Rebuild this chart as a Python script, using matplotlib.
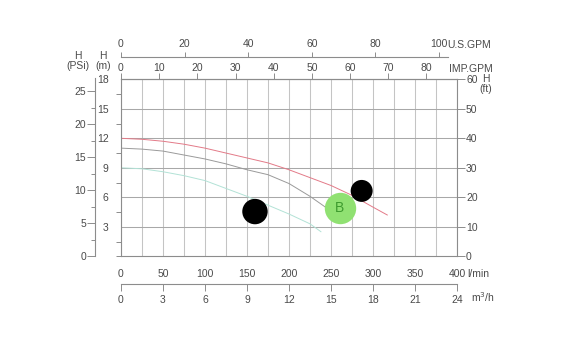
import matplotlib.pyplot as plt
from matplotlib.ticker import MultipleLocator

# pump curves: flow (l/min) vs head (m)
q_red = [0, 25, 50, 75, 100, 125, 150, 175, 200, 225, 250, 275, 300, 317]
h_red = [12.0, 11.9, 11.7, 11.4, 11.0, 10.5, 10.0, 9.5, 8.8, 8.0, 7.2, 6.2, 5.0, 4.2]
q_gray = [0, 25, 50, 75, 100, 125, 150, 175, 200, 225, 250, 262]
h_gray = [11.0, 10.9, 10.7, 10.3, 9.9, 9.4, 8.8, 8.3, 7.4, 6.1, 4.6, 3.7]
q_teal = [0, 25, 50, 75, 100, 125, 150, 175, 200, 225, 238]
h_teal = [9.0, 8.9, 8.6, 8.2, 7.7, 6.9, 6.1, 5.2, 4.3, 3.3, 2.5]

# marks drawn over the chart
dots_q = [159.5, 286.5]
dots_h = [4.55, 6.65]
dot_sizes = [335, 250]
badge_q = 260.7
badge_h = 4.9
badge_text = 'B'

lmin_ticks = list(range(0, 401, 50))
m_ticks = [3, 6, 9, 12, 15, 18]
psi_ticks = [0, 5, 10, 15, 20, 25]
ft_ticks = [0, 10, 20, 30, 40, 50, 60]
imp_ticks = list(range(0, 81, 10))
us_ticks = list(range(0, 101, 20))
m3h_ticks = list(range(0, 25, 3))

plt.rcParams['font.family'] = ['Liberation Sans', 'DejaVu Sans']
TXT = '#4a4a4a'
AX = '#8c8c8c'
FS = 7.5
W, H = 580, 352


def fx(px):
    return px / W


def fy(py):
    return 1 - py / H


fig = plt.figure(figsize=(5.8, 3.52), dpi=100)
L, R, T, B = 121, 457, 79.3, 256.3
ax = fig.add_axes([fx(L), fy(B), (R - L) / W, (B - T) / H])
ax.set_xlim(0, 400)
ax.set_ylim(0, 18)
for s in ax.spines.values():
    s.set_color(AX)
    s.set_linewidth(0.8)

ax.set_xticks(lmin_ticks)
ax.xaxis.set_minor_locator(MultipleLocator(25))
ax.set_yticks(m_ticks)
ax.yaxis.set_minor_locator(MultipleLocator(1.5))
ax.tick_params(axis='x', which='both', length=0, pad=9, labelsize=FS, labelcolor=TXT)
ax.tick_params(axis='y', which='major', length=0, pad=9, labelsize=FS, labelcolor=TXT)
ax.tick_params(axis='y', which='minor', length=3.5, width=0.7, color=AX)
ax.grid(axis='x', which='both', color='#c4c4c4', linewidth=0.75)
ax.grid(axis='y', which='major', color='#a8a8a8', linewidth=0.75)
ax.set_axisbelow(True)

ax.plot(q_red, h_red, color='#e37a88', linewidth=0.7)
ax.plot(q_gray, h_gray, color='#9a9a9a', linewidth=0.7)
ax.plot(q_teal, h_teal, color='#b2e2d6', linewidth=0.7)

ax.scatter(badge_q, badge_h, s=510, color='#90e172', zorder=5, linewidths=0)
ax.text(badge_q, badge_h, badge_text, color='#3d9a2e', fontsize=10,
        ha='center', va='center', zorder=6)
ax.scatter(dots_q, dots_h, s=dot_sizes, color='black', zorder=7, linewidths=0)

# right: feet
ax_ft = ax.twinx()
ax_ft.set_ylim(0, 60)
ax_ft.set_yticks(ft_ticks)
ax_ft.tick_params(axis='y', length=5.5, width=0.7, color=AX, pad=1,
                  labelsize=FS, labelcolor=TXT)
for s in ax_ft.spines.values():
    s.set_visible(False)

# top: imperial gpm
ax_imp = ax.secondary_xaxis('top', functions=(lambda q: q / 4.546, lambda g: g * 4.546))
ax_imp.set_xticks(imp_ticks)
ax_imp.tick_params(length=4.3, width=0.7, color=AX, pad=0.5, labelsize=FS, labelcolor=TXT)
ax_imp.spines['top'].set_color(AX)
ax_imp.spines['top'].set_linewidth(0.8)

# bottom: m3/h
ax_m3 = ax.secondary_xaxis(-0.158, functions=(lambda q: q * 0.06, lambda v: v / 0.06))
ax_m3.set_xticks(m3h_ticks)
ax_m3.tick_params(length=5, width=0.7, color=AX, pad=2.5, labelsize=FS, labelcolor=TXT)
ax_m3.spines['bottom'].set_color(AX)
ax_m3.spines['bottom'].set_linewidth(0.8)

# top: US gpm
us_right = 448
ax_us = fig.add_axes([fx(L), fy(56.7), (us_right - L) / W, 0.0001])
ax_us.set_xlim(0, (us_right - L) / (R - L) * 400 / 3.785)
ax_us.set_facecolor('none')
for k, s in ax_us.spines.items():
    s.set_visible(k == 'top')
ax_us.spines['top'].set_color(AX)
ax_us.spines['top'].set_linewidth(0.8)
ax_us.xaxis.set_ticks_position('top')
ax_us.set_xticks(us_ticks)
ax_us.set_yticks([])
ax_us.tick_params(axis='x', length=3.6, width=0.7, color=AX, pad=2, labelsize=FS, labelcolor=TXT)

# left: psi
ax_psi = fig.add_axes([fx(95), fy(B), 0.0001, (B - 78) / H])
ax_psi.set_ylim(0, (B - 78) / 6.6)
ax_psi.set_facecolor('none')
for k, s in ax_psi.spines.items():
    s.set_visible(k == 'left')
ax_psi.spines['left'].set_color(AX)
ax_psi.spines['left'].set_linewidth(0.8)
ax_psi.set_xticks([])
ax_psi.set_yticks(psi_ticks)
ax_psi.yaxis.set_minor_locator(MultipleLocator(2.5))
ax_psi.tick_params(axis='y', which='major', length=5.5, width=0.7, color=AX, pad=1,
                   labelsize=FS, labelcolor=TXT)
ax_psi.tick_params(axis='y', which='minor', length=3, width=0.7, color=AX)

# axis captions
cap = dict(fontsize=FS, color=TXT, ha='center', va='center', linespacing=1.0)
fig.text(fx(78), fy(61), 'H\n(PSi)', **cap)
fig.text(fx(103), fy(61), 'H\n(m)', **cap)
fig.text(fx(486), fy(84), 'H\n(ft)', **cap)
fig.text(fx(469), fy(45), 'U.S.GPM', **cap)
fig.text(fx(471), fy(68.5), 'IMP.GPM', **cap)
fig.text(fx(478), fy(274), 'l/min', **cap)
fig.text(fx(483), fy(297), 'm$^3$/h', **cap)

plt.savefig('out.png', dpi=100)
